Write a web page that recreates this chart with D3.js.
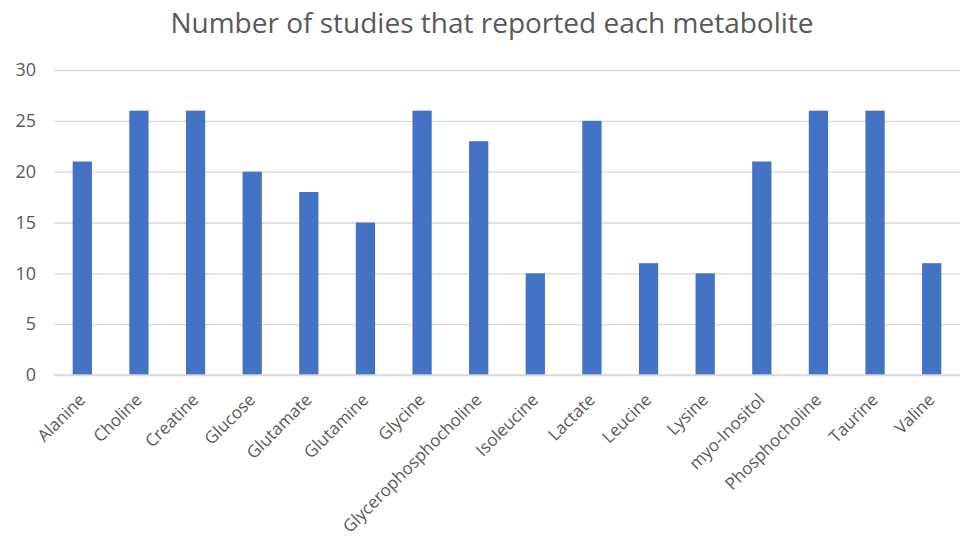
<!DOCTYPE html>
<html>
<head>
<meta charset="utf-8">
<script src="https://cdn.jsdelivr.net/npm/d3@7"></script>
<style>
  html, body { margin: 0; padding: 0; background: #fff; }
  svg { display: block; }
</style>
</head>
<body>
<svg id="chart" width="960" height="538"></svg>
<script>
// Metabolites and how many studies reported each
const metabolites = ["Alanine", "Choline", "Creatine", "Glucose", "Glutamate", "Glutamine", "Glycine",
  "Glycerophosphocholine", "Isoleucine", "Lactate", "Leucine", "Lysine", "myo-Inositol",
  "Phosphocholine", "Taurine", "Valine"];
const studyCounts = [21, 26, 26, 20, 18, 15, 26, 23, 10, 25, 11, 10, 21, 26, 26, 11];
const yTicks = [0, 5, 10, 15, 20, 25, 30];
const chartTitle = "Number of studies that reported each metabolite";

const svg = d3.select("#chart");
const fontFamily = "'Open Sans', 'Liberation Sans', sans-serif";
const textColor = "#595959";

const margin = { left: 54, right: 0, top: 70, bottom: 163 };
const W = 960, H = 538;

const x = d3.scaleBand()
  .domain(metabolites)
  .range([margin.left, W - margin.right])
  .paddingInner(0.66)
  .paddingOuter(0.33);

const y = d3.scaleLinear()
  .domain([0, 30])
  .range([H - margin.bottom, margin.top]);

// Title
svg.append("text")
  .attr("x", 492)
  .attr("y", 33)
  .attr("text-anchor", "middle")
  .attr("font-family", fontFamily)
  .attr("font-size", 28)
  .attr("fill", textColor)
  .text(chartTitle);

// Horizontal gridlines and y labels
const yAxis = d3.axisLeft(y).tickValues(yTicks).tickSize(-(W - margin.left - margin.right)).tickPadding(18);
const gy = svg.append("g").attr("transform", `translate(${margin.left},0)`).call(yAxis);
gy.select(".domain").remove();
gy.selectAll(".tick line").attr("stroke", "#d9d9d9").attr("stroke-width", 1.3);
gy.selectAll(".tick text")
  .attr("font-family", fontFamily)
  .attr("font-size", 18)
  .attr("fill", textColor);

// Bars
svg.append("g").selectAll("rect")
  .data(metabolites)
  .join("rect")
  .attr("x", d => x(d))
  .attr("width", x.bandwidth())
  .attr("y", (d, i) => y(studyCounts[i]))
  .attr("height", (d, i) => y(0) - y(studyCounts[i]))
  .attr("fill", "#4472c4");

// Baseline
svg.append("line")
  .attr("x1", margin.left).attr("x2", W - margin.right)
  .attr("y1", y(0)).attr("y2", y(0))
  .attr("stroke", "#d9d9d9").attr("stroke-width", 1.3);

// Category axis with rotated labels
const xAxis = d3.axisBottom(x).tickSize(0).tickPadding(0);
const gx = svg.append("g").attr("transform", `translate(0,${y(0)})`).call(xAxis);
gx.select(".domain").remove();
gx.selectAll(".tick text")
  .attr("font-family", fontFamily)
  .attr("font-size", 17)
  .attr("fill", textColor)
  .attr("text-anchor", "end")
  .attr("dy", 0)
  .attr("transform", "translate(4,26) rotate(-45)");
</script>
</body>
</html>
